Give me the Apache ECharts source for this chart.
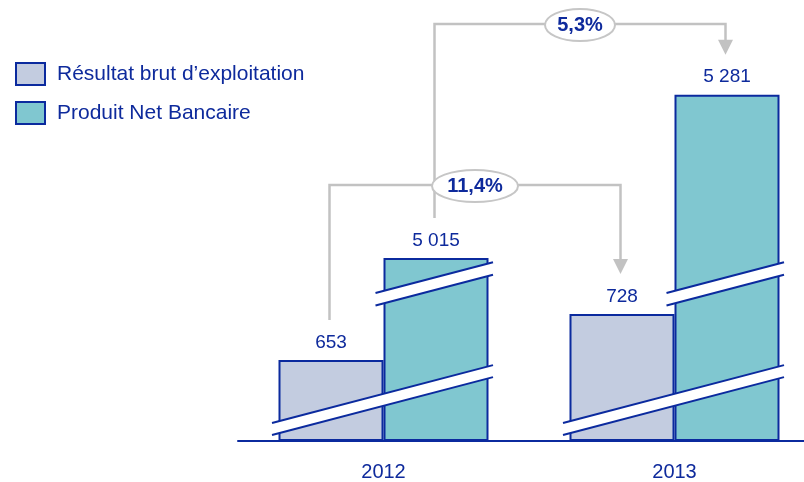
<!DOCTYPE html>
<html><head><meta charset="utf-8">
<script src="https://cdn.jsdelivr.net/npm/echarts@6/dist/echarts.min.js"></script>
<style>html,body{margin:0;padding:0;background:#fff}#c{width:804px;height:482px}</style>
</head><body><div id="c"></div>
<script>
// ---- data ----
const years = ['2012', '2013'];
const seriesNames = ['Résultat brut d’exploitation', 'Produit Net Bancaire'];
const rbe = [653, 728];
const pnb = [5015, 5281];
const growthLabels = ['11,4%', '5,3%'];

// ---- style ----
const BLUE = '#0b2a9e';
const TEXT = '#0e2a9c';
const GREY_FILL = '#c3cce0';
const TEAL_FILL = '#80c7d0';
const CONN = '#c2c2c2';
const FONT = '"Liberation Sans", Arial, sans-serif';
const BAR_W = 105;

const fmt = v => String(v).replace(/\B(?=(\d{3})+(?!\d))/g, ' ');

const chart = echarts.init(document.getElementById('c'), null, { renderer: 'canvas' });
const labelOpt = { show: true, position: 'top', distance: 8, fontSize: 19, color: TEXT, fontFamily: FONT, formatter: p => fmt(p.value) };
chart.setOption({
  animation: false,
  backgroundColor: '#fff',
  textStyle: { fontFamily: FONT },
  legend: {
    orient: 'vertical', left: 10, top: 57, itemWidth: 29, itemHeight: 22, itemGap: 15, icon: 'rect',
    selectedMode: false,
    itemStyle: { borderColor: BLUE, borderWidth: 2 },
    textStyle: { fontSize: 21, color: TEXT, fontFamily: FONT, padding: [0, 0, 0, 7] },
    data: seriesNames
  },
  grid: { left: 238, width: 582, top: 83, bottom: 41, containLabel: false, outerBoundsMode: 'none' },
  xAxis: {
    type: 'category', data: years,
    axisLine: { lineStyle: { color: BLUE, width: 2 } },
    axisTick: { show: false },
    axisLabel: { fontSize: 20, color: TEXT, margin: 21, fontFamily: FONT }
  },
  yAxis: {
    type: 'value', min: 0, max: 5300,
    breaks: [{ start: 0, end: 521, gap: 0 }, { start: 800, end: 4996, gap: 0 }],
    breakArea: { show: false },
    axisLine: { show: false }, axisTick: { show: false }, axisLabel: { show: false }, splitLine: { show: false }
  },
  series: [
    { name: seriesNames[0], type: 'bar', data: rbe, barWidth: BAR_W, barGap: '0%',
      itemStyle: { color: GREY_FILL, borderColor: BLUE, borderWidth: 2 }, label: labelOpt },
    { name: seriesNames[1], type: 'bar', data: pnb, barWidth: BAR_W, barGap: '0%',
      itemStyle: { color: TEAL_FILL, borderColor: BLUE, borderWidth: 2 }, label: labelOpt }
  ]
});

// ---- decorations computed from the chart's own scales ----
const px = (i, v) => chart.convertToPixel({ xAxisIndex: 0, yAxisIndex: 0 }, [i, v]);
const base = px(0, 0)[1];
const els = [];
const SLOPE = 0.262;
function band(x1, x2, yTop, thick) {
  const yR = yTop - SLOPE * (x2 - x1);
  els.push({ type: 'polygon', z: 100, shape: { points: [[x1, yTop], [x2, yR], [x2, yR + thick], [x1, yTop + thick]] }, style: { fill: '#fff' } });
  els.push({ type: 'line', z: 101, shape: { x1: x1, y1: yTop, x2: x2, y2: yR }, style: { stroke: BLUE, lineWidth: 2 } });
  els.push({ type: 'line', z: 101, shape: { x1: x1, y1: yTop + thick, x2: x2, y2: yR + thick }, style: { stroke: BLUE, lineWidth: 2 } });
}
years.forEach((y, i) => {
  const cx = px(i, 0)[0];
  band(cx - BAR_W - 6.5, cx + BAR_W + 4.5, base - 18, 12);
  band(cx - 8, cx + BAR_W + 4.5, base - 148, 12.5);
});

const levels = [185, 24];
const ellRx = [43, 35];
[rbe, pnb].forEach((arr, s) => {
  const off = s === 0 ? -BAR_W / 2 : BAR_W / 2;
  const p0 = px(0, arr[0]), p1 = px(1, arr[1]);
  const xa = p0[0] + off - 1.5, xb = p1[0] + off - 1.5;
  const ya = p0[1] - 40, tip = p1[1] - 40, ly = levels[s];
  els.push({ type: 'polyline', z: 90, shape: { points: [[xa, ya], [xa, ly], [xb, ly], [xb, tip - 14]] }, style: { stroke: CONN, lineWidth: 2.5, fill: null } });
  els.push({ type: 'polygon', z: 90, shape: { points: [[xb - 7.5, tip - 15], [xb + 7.5, tip - 15], [xb, tip]] }, style: { fill: CONN } });
  const mx = (xa + xb) / 2;
  els.push({ type: 'ellipse', z: 110, shape: { cx: mx, cy: ly + 1, rx: ellRx[s], ry: 16 }, style: { fill: '#fff', stroke: '#c6c6c6', lineWidth: 2 } });
  els.push({ type: 'text', z: 111, x: mx, y: ly + 1, style: { text: growthLabels[s], fill: TEXT, font: 'bold 20px ' + FONT, align: 'center', verticalAlign: 'middle' } });
});
chart.setOption({ graphic: { elements: els } });
</script>
</body></html>
